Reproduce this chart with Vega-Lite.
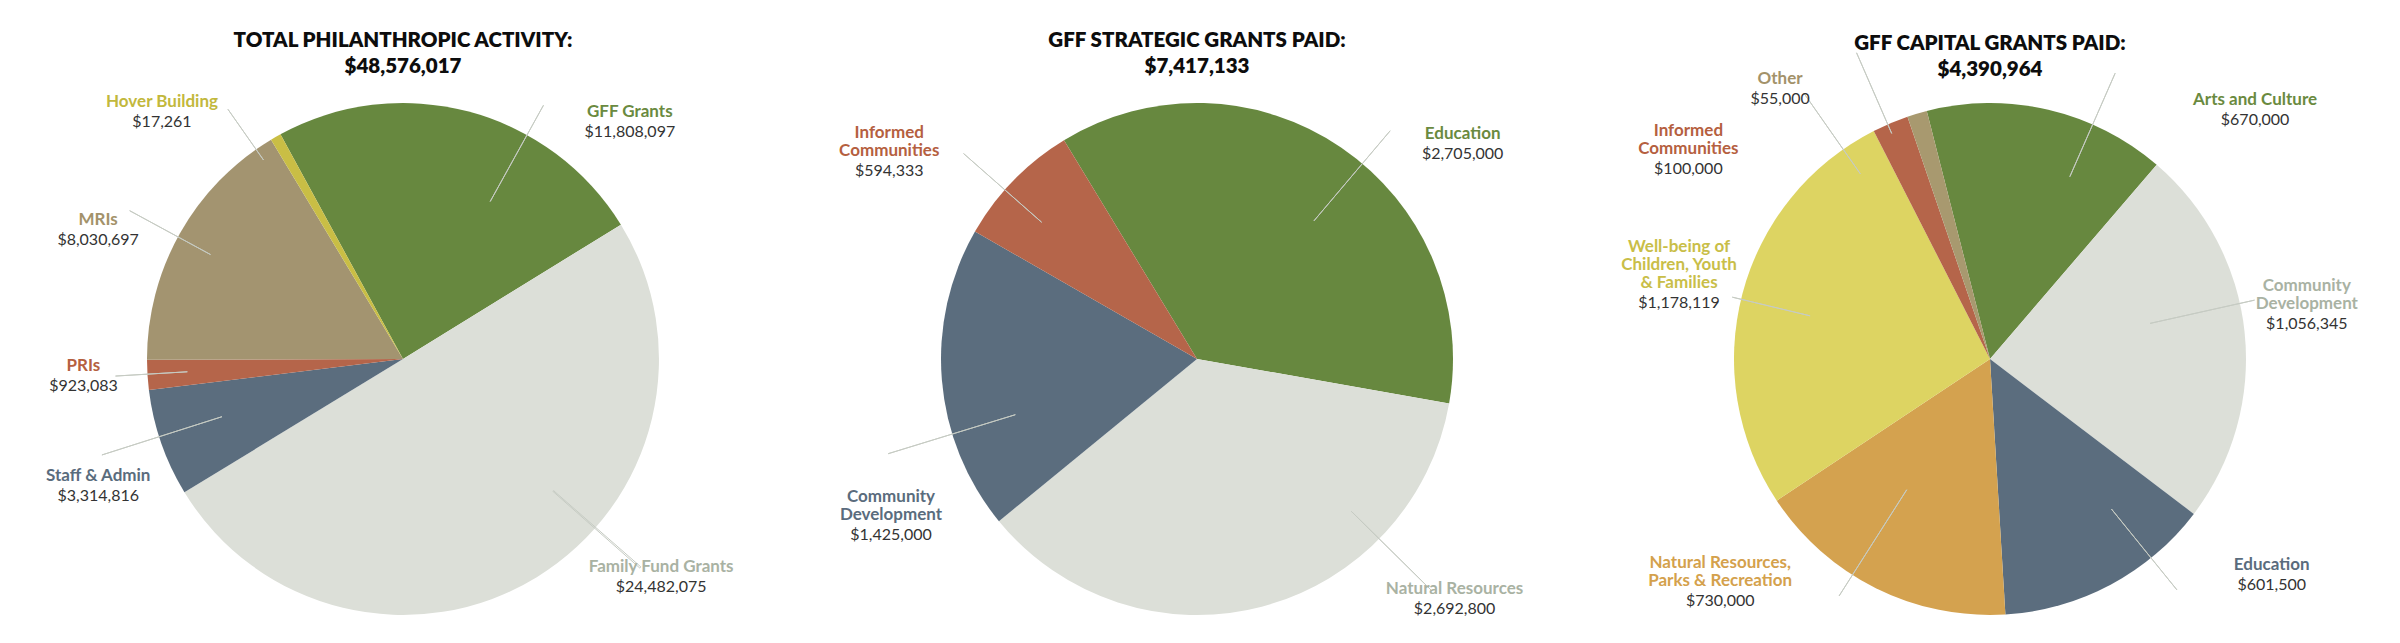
{
  "$schema": "https://vega.github.io/schema/vega-lite/v6.json",
  "background": "white",
  "padding": {"top": 30, "left": 0, "right": 0, "bottom": 0},
  "spacing": 0,
  "config": {
    "view": {"stroke": null},
    "title": {"font": "Lato", "fontSize": 20.5, "fontWeight": 800, "color": "#0d0d0d", "anchor": "middle", "frame": "group", "lineHeight": 26, "offset": 0}
  },
  "datasets": {
    "p1": [
      {"i": 0, "cat": "GFF Grants", "name": "GFF Grants", "slice": 11808097, "amount": 11808097},
      {"i": 1, "cat": "Family Fund Grants", "name": "Family Fund Grants", "slice": 24482075, "amount": 24482075},
      {"i": 2, "cat": "Staff & Admin", "name": "Staff & Admin", "slice": 3314816, "amount": 3314816},
      {"i": 3, "cat": "PRIs", "name": "PRIs", "slice": 923083, "amount": 923083},
      {"i": 4, "cat": "MRIs", "name": "MRIs", "slice": 8030697, "amount": 8030697},
      {"i": 5, "cat": "Hover Building", "name": "Hover Building", "slice": 330000, "amount": 17261}
    ],
    "p2": [
      {"i": 0, "cat": "Education", "name": "Education", "slice": 2705000, "amount": 2705000},
      {"i": 1, "cat": "Natural Resources", "name": "Natural Resources", "slice": 2692800, "amount": 2692800},
      {"i": 2, "cat": "Community Development", "name": "Community\nDevelopment", "slice": 1425000, "amount": 1425000},
      {"i": 3, "cat": "Informed Communities", "name": "Informed\nCommunities", "slice": 594333, "amount": 594333}
    ],
    "p3": [
      {"i": 0, "cat": "Arts and Culture", "name": "Arts and Culture", "slice": 670000, "amount": 670000},
      {"i": 1, "cat": "Community Development", "name": "Community\nDevelopment", "slice": 1056345, "amount": 1056345},
      {"i": 2, "cat": "Education", "name": "Education", "slice": 601500, "amount": 601500},
      {"i": 3, "cat": "Natural Resources, Parks & Recreation", "name": "Natural Resources,\nParks & Recreation", "slice": 730000, "amount": 730000},
      {"i": 4, "cat": "Well-being of Children, Youth & Families", "name": "Well-being of\nChildren, Youth\n& Families", "slice": 1178119, "amount": 1178119},
      {"i": 5, "cat": "Informed Communities", "name": "Informed\nCommunities", "slice": 100000, "amount": 100000},
      {"i": 6, "cat": "Other", "name": "Other", "slice": 55000, "amount": 55000}
    ]
  },
  "resolve": {"scale": {"color": "independent", "fill": "independent", "theta": "independent"}},
  "hconcat": [
    {
      "width": 806, "height": 556,
      "title": {"text": ["TOTAL PHILANTHROPIC ACTIVITY:", "$48,576,017"]},
      "data": {"name": "p1"},
      "layer": [
        {
          "mark": {"type": "arc", "radius": 256},
          "encoding": {
            "theta": {"field": "slice", "type": "quantitative", "stack": true, "scale": {"range": [-0.4992, 5.784]}},
            "order": {"field": "i", "type": "quantitative"},
            "color": {"field": "cat", "type": "nominal", "legend": null,
              "scale": {"domain": ["GFF Grants", "Family Fund Grants", "Staff & Admin", "PRIs", "MRIs", "Hover Building"],
                        "range": ["#67883f", "#dcdfd8", "#5b6d7e", "#b5654a", "#a39470", "#c9be45"]}}
          }
        },
        {
          "mark": {"type": "arc", "filled": false, "stroke": "#c6cbc3", "strokeWidth": 1, "padAngle": 3.1416,
            "radius": {"expr": "[290,316,316,288,311,305][datum.i]"},
            "radius2": {"expr": "[180,200,190,216,219,243][datum.i]"},
            "thetaOffset": {"expr": "[0.246,-0.300,0.026,0.003,-0.016,-0.091][datum.i]"},
            "theta2Offset": {"expr": "[0.246,-0.300,0.026,0.003,-0.016,-0.091][datum.i]"}},
          "encoding": {
            "theta": {"field": "slice", "type": "quantitative", "stack": true, "scale": {"range": [-0.4992, 5.784]}},
            "order": {"field": "i", "type": "quantitative"},
            "detail": {"field": "cat", "type": "nominal"}
          }
        },
        {
          "mark": {"type": "text", "font": "Lato", "fontSize": 17, "fontWeight": "bold", "align": "center", "baseline": "bottom", "lineBreak": "\n", "lineHeight": 18, "dy": -1,
            "radius": {"expr": "[328,338,330,320,331,345][datum.i]"},
            "thetaOffset": {"expr": "[0.504,-0.319,-0.059,0.009,-0.113,-0.253][datum.i]"}},
          "encoding": {
            "theta": {"field": "slice", "type": "quantitative", "stack": true, "scale": {"range": [-0.4992, 5.784]}},
            "order": {"field": "i", "type": "quantitative"},
            "detail": {"field": "cat", "type": "nominal"},
            "text": {"field": "name", "type": "nominal"},
            "fill": {"field": "cat", "type": "nominal", "legend": null,
              "scale": {"domain": ["GFF Grants", "Family Fund Grants", "Staff & Admin", "PRIs", "MRIs", "Hover Building"],
                        "range": ["#6a8a40", "#a9b2a3", "#5a6c7d", "#b5603f", "#a3926a", "#c2b83c"]}}
          }
        },
        {
          "mark": {"type": "text", "font": "Lato", "fontSize": 16, "align": "center", "baseline": "top", "color": "#333333", "dy": 2,
            "radius": {"expr": "[328,338,330,320,331,345][datum.i]"},
            "thetaOffset": {"expr": "[0.504,-0.319,-0.059,0.009,-0.113,-0.253][datum.i]"}},
          "encoding": {
            "theta": {"field": "slice", "type": "quantitative", "stack": true, "scale": {"range": [-0.4992, 5.784]}},
            "order": {"field": "i", "type": "quantitative"},
            "detail": {"field": "cat", "type": "nominal"},
            "text": {"field": "amount", "type": "quantitative", "format": "$,"}
          }
        }
      ]
    },
    {
      "width": 782, "height": 556,
      "title": {"text": ["GFF STRATEGIC GRANTS PAID:", "$7,417,133"]},
      "data": {"name": "p2"},
      "layer": [
        {
          "mark": {"type": "arc", "radius": 256},
          "encoding": {
            "theta": {"field": "slice", "type": "quantitative", "stack": true, "scale": {"range": [-0.5463, 5.7369]}},
            "order": {"field": "i", "type": "quantitative"},
            "color": {"field": "cat", "type": "nominal", "legend": null,
              "scale": {"domain": ["Education", "Natural Resources", "Community Development", "Informed Communities"],
                        "range": ["#67883f", "#dcdfd8", "#5b6d7e", "#b5654a"]}}
          }
        },
        {
          "mark": {"type": "arc", "filled": false, "stroke": "#c6cbc3", "strokeWidth": 1, "padAngle": 3.1416,
            "radius": {"expr": "[299,329,323,311][datum.i]"},
            "radius2": {"expr": "[181,217,190,207][datum.i]"},
            "thetaOffset": {"expr": "[0.103,-0.536,-0.215,-0.051][datum.i]"},
            "theta2Offset": {"expr": "[0.103,-0.536,-0.215,-0.051][datum.i]"}},
          "encoding": {
            "theta": {"field": "slice", "type": "quantitative", "stack": true, "scale": {"range": [-0.5463, 5.7369]}},
            "order": {"field": "i", "type": "quantitative"},
            "detail": {"field": "cat", "type": "nominal"}
          }
        },
        {
          "mark": {"type": "text", "font": "Lato", "fontSize": 17, "fontWeight": "bold", "align": "center", "baseline": "bottom", "lineBreak": "\n", "lineHeight": 18,
            "dy": {"expr": "-1 - 18 * ([1,1,2,2][datum.i] - 1)"},
            "radius": {"expr": "[342,352,348,366][datum.i]"},
            "thetaOffset": {"expr": "[0.290,-0.565,-0.414,-0.201][datum.i]"}},
          "encoding": {
            "theta": {"field": "slice", "type": "quantitative", "stack": true, "scale": {"range": [-0.5463, 5.7369]}},
            "order": {"field": "i", "type": "quantitative"},
            "detail": {"field": "cat", "type": "nominal"},
            "text": {"field": "name", "type": "nominal"},
            "fill": {"field": "cat", "type": "nominal", "legend": null,
              "scale": {"domain": ["Education", "Natural Resources", "Community Development", "Informed Communities"],
                        "range": ["#6a8a40", "#a9b2a3", "#5a6c7d", "#b5603f"]}}
          }
        },
        {
          "mark": {"type": "text", "font": "Lato", "fontSize": 16, "align": "center", "baseline": "top", "color": "#333333", "dy": 2,
            "radius": {"expr": "[342,352,348,366][datum.i]"},
            "thetaOffset": {"expr": "[0.290,-0.565,-0.414,-0.201][datum.i]"}},
          "encoding": {
            "theta": {"field": "slice", "type": "quantitative", "stack": true, "scale": {"range": [-0.5463, 5.7369]}},
            "order": {"field": "i", "type": "quantitative"},
            "detail": {"field": "cat", "type": "nominal"},
            "text": {"field": "amount", "type": "quantitative", "format": "$,"}
          }
        }
      ]
    },
    {
      "width": 804, "height": 556,
      "title": {"text": ["GFF CAPITAL GRANTS PAID:", "$4,390,964"], "offset": -30},
      "data": {"name": "p3"},
      "layer": [
        {
          "mark": {"type": "arc", "radius": 256},
          "encoding": {
            "theta": {"field": "slice", "type": "quantitative", "stack": true, "scale": {"range": [-0.2496, 6.0336]}},
            "order": {"field": "i", "type": "quantitative"},
            "color": {"field": "cat", "type": "nominal", "legend": null,
              "scale": {"domain": ["Arts and Culture", "Community Development", "Education", "Natural Resources, Parks & Recreation", "Well-being of Children, Youth & Families", "Informed Communities", "Other"],
                        "range": ["#67883f", "#dcdfd8", "#5b6d7e", "#d4a24f", "#ddd462", "#b5654a", "#a8996f"]}}
          }
        },
        {
          "mark": {"type": "arc", "filled": false, "stroke": "#c6cbc3", "strokeWidth": 1, "padAngle": 3.1416,
            "radius": {"expr": "[312,271,297,281,265,324,334][datum.i]"},
            "radius2": {"expr": "[199,164,193,155,185,226,246][datum.i]"},
            "thetaOffset": {"expr": "[0.183,-0.113,-0.190,0.105,-0.021,-0.211,-0.122][datum.i]"},
            "theta2Offset": {"expr": "[0.183,-0.113,-0.190,0.105,-0.021,-0.211,-0.122][datum.i]"}},
          "encoding": {
            "theta": {"field": "slice", "type": "quantitative", "stack": true, "scale": {"range": [-0.2496, 6.0336]}},
            "order": {"field": "i", "type": "quantitative"},
            "detail": {"field": "cat", "type": "nominal"}
          }
        },
        {
          "mark": {"type": "text", "font": "Lato", "fontSize": 17, "fontWeight": "bold", "align": "center", "baseline": "bottom", "lineBreak": "\n", "lineHeight": 18,
            "dy": {"expr": "-1 - 18 * ([1,2,1,2,3,2,1][datum.i] - 1)"},
            "radius": {"expr": "[364,320,355,356,318,362,342][datum.i]"},
            "thetaOffset": {"expr": "[0.586,-0.035,-0.426,0.398,-0.046,-0.585,-0.372][datum.i]"}},
          "encoding": {
            "theta": {"field": "slice", "type": "quantitative", "stack": true, "scale": {"range": [-0.2496, 6.0336]}},
            "order": {"field": "i", "type": "quantitative"},
            "detail": {"field": "cat", "type": "nominal"},
            "text": {"field": "name", "type": "nominal"},
            "fill": {"field": "cat", "type": "nominal", "legend": null,
              "scale": {"domain": ["Arts and Culture", "Community Development", "Education", "Natural Resources, Parks & Recreation", "Well-being of Children, Youth & Families", "Informed Communities", "Other"],
                        "range": ["#6a8a40", "#a9b2a3", "#5a6c7d", "#d4a14c", "#c9be48", "#b5603f", "#a3926a"]}}
          }
        },
        {
          "mark": {"type": "text", "font": "Lato", "fontSize": 16, "align": "center", "baseline": "top", "color": "#333333", "dy": 2,
            "radius": {"expr": "[364,320,355,356,318,362,342][datum.i]"},
            "thetaOffset": {"expr": "[0.586,-0.035,-0.426,0.398,-0.046,-0.585,-0.372][datum.i]"}},
          "encoding": {
            "theta": {"field": "slice", "type": "quantitative", "stack": true, "scale": {"range": [-0.2496, 6.0336]}},
            "order": {"field": "i", "type": "quantitative"},
            "detail": {"field": "cat", "type": "nominal"},
            "text": {"field": "amount", "type": "quantitative", "format": "$,"}
          }
        }
      ]
    }
  ]
}
